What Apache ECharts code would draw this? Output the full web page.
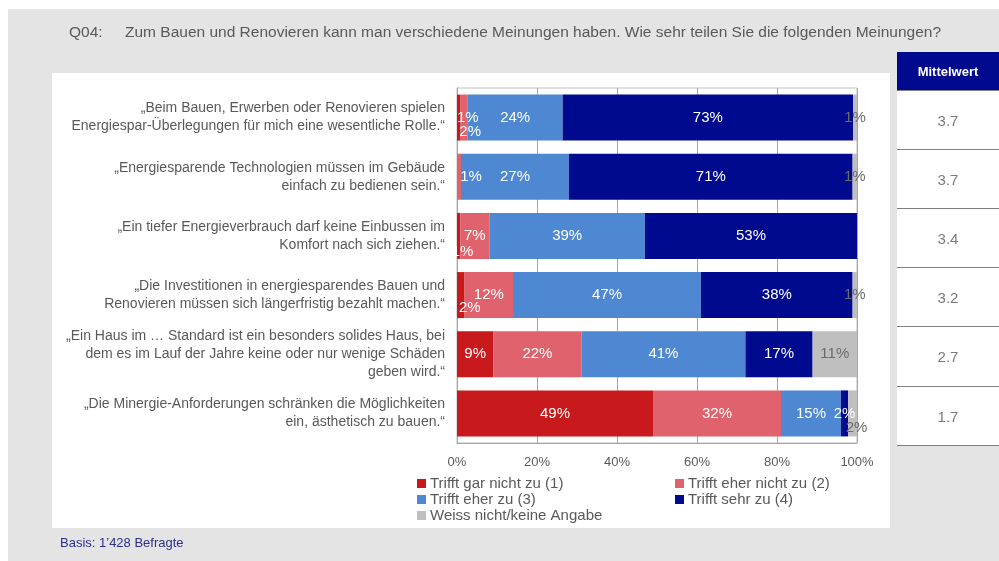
<!DOCTYPE html>
<html>
<head>
<meta charset="utf-8">
<script src="https://cdn.jsdelivr.net/npm/echarts@6/dist/echarts.min.js"></script>
<style>
  html, body { margin: 0; padding: 0; background: #fff; }
  #chart-container { width: 999px; height: 561px; }
</style>
</head>
<body>
<div id="chart-container"></div>
<script>
var categories = [
  "„Beim Bauen, Erwerben oder Renovieren spielen\nEnergiespar-Überlegungen für mich eine wesentliche Rolle.“",
  "„Energiesparende Technologien müssen im Gebäude\neinfach zu bedienen sein.“",
  "„Ein tiefer Energieverbrauch darf keine Einbussen im\nKomfort nach sich ziehen.“",
  "„Die Investitionen in energiesparendes Bauen und\nRenovieren müssen sich längerfristig bezahlt machen.“",
  "„Ein Haus im … Standard ist ein besonders solides Haus, bei\ndem es im Lauf der Jahre keine oder nur wenige Schäden\ngeben wird.“",
  "„Die Minergie-Anforderungen schränken die Möglichkeiten\nein, ästhetisch zu bauen.“"
];
var seriesNames = [
  "Trifft gar nicht zu (1)",
  "Trifft eher nicht zu (2)",
  "Trifft eher zu (3)",
  "Trifft sehr zu (4)",
  "Weiss nicht/keine Angabe"
];
var garNicht = [0.9, 0, 0.8, 1.9, 9.1, 49.0];
var eherNicht = [1.8, 1.0, 7.3, 12.1, 22.0, 32.0];
var eherZu = [23.7, 27.0, 38.9, 47.0, 41.0, 15.0];
var sehrZu = [72.6, 70.9, 53.0, 37.9, 16.8, 1.8];
var weissNicht = [1.0, 1.1, 0, 1.1, 11.1, 2.2];
var mittelwert = [3.7, 3.7, 3.4, 3.2, 2.7, 1.7];

var colors = ["#C8191C", "#E0626C", "#4F88D2", "#000A8F", "#BFBFBF"];
var FONT = "Liberation Sans";

// small segments: label moved a bit, like in the original
var labelShift = {
  0: { 0: [9, 0], 2: [4, 16], 3: [9, 13] },
  1: { 0: [6, 14], 1: [12, 0] },
  4: { 5: [4, 14] }
};

var dom = document.getElementById("chart-container");
var myChart = echarts.init(dom, null, { renderer: "canvas" });

var values = [garNicht, eherNicht, eherZu, sehrZu, weissNicht];

var barSeries = values.map(function (arr, s) {
  return {
    name: seriesNames[s],
    type: "bar",
    stack: "total",
    xAxisIndex: 0,
    yAxisIndex: 0,
    barWidth: 46,
    itemStyle: { color: colors[s] },
    label: {
      show: true,
      position: "inside",
      color: s === 4 ? "#6B6B6B" : "#fff",
      fontFamily: FONT,
      fontSize: 15,
      formatter: function (p) {
        return p.value > 0 ? Math.round(p.value) + "%" : "";
      }
    },
    data: arr.map(function (v, i) {
      var sh = labelShift[s] && labelShift[s][i];
      if (sh) {
        return { value: v, label: { offset: sh } };
      }
      return v;
    })
  };
});

var legendPos = [[417, 476], [675, 476], [417, 492], [675, 492], [417, 508]];
var legends = seriesNames.map(function (n, s) {
  return {
    data: [n],
    left: legendPos[s][0],
    top: legendPos[s][1],
    padding: 0,
    itemWidth: 9,
    itemHeight: 9,
    icon: "rect",
    selectedMode: false,
    textStyle: { color: "#595959", fontFamily: FONT, fontSize: 15, padding: [0, 0, 0, -1] }
  };
});

var option = {
  animation: false,
  color: colors,
  legend: legends,
  graphic: {
    elements: [
      { type: "rect", left: 8, top: 9, shape: { width: 991, height: 552 }, style: { fill: "#E4E4E4" }, z: -10 },
      { type: "rect", left: 52, top: 73, shape: { width: 838, height: 455 }, style: { fill: "#fff" }, z: -9 },
      { type: "rect", left: 897, top: 90, shape: { width: 102, height: 355 }, style: { fill: "#fff" }, z: -9 },
      { type: "rect", left: 897, top: 52, shape: { width: 102, height: 38 }, style: { fill: "#000A8F" }, z: -8 },
      {
        type: "text", left: 69, top: 25,
        style: { text: "Q04:", fill: "#595959", font: "15.5px '" + FONT + "'" }
      },
      {
        type: "text", left: 125, top: 25,
        style: {
          text: "Zum Bauen und Renovieren kann man verschiedene Meinungen haben. Wie sehr teilen Sie die folgenden Meinungen?",
          fill: "#595959", font: "15.5px '" + FONT + "'"
        }
      },
      {
        type: "text", x: 948, y: 72,
        style: { text: "Mittelwert", fill: "#fff", font: "bold 13px '" + FONT + "'", align: "center", verticalAlign: "middle" }
      },
      {
        type: "text", left: 60, top: 537,
        style: { text: "Basis: 1’428 Befragte", fill: "#2B2F8F", font: "13px '" + FONT + "'" }
      }
    ]
  },
  grid: [
    { left: 457, top: 88, width: 400, height: 355, show: true, borderColor: "#BFBFBF", borderWidth: 1, backgroundColor: "transparent" },
    { left: 897, top: 90, width: 102, height: 355 }
  ],
  xAxis: [
    {
      gridIndex: 0,
      type: "value",
      min: 0,
      max: 100,
      interval: 20,
      axisLine: { show: true, lineStyle: { color: "#A6A6A6" } },
      axisTick: { show: false },
      splitLine: { show: true, lineStyle: { color: "#A6A6A6" } },
      axisLabel: { color: "#595959", fontFamily: FONT, fontSize: 13, margin: 13, formatter: "{value}%" }
    },
    { gridIndex: 1, type: "value", min: -1, max: 1, show: false }
  ],
  yAxis: [
    {
      gridIndex: 0,
      type: "category",
      inverse: true,
      data: categories,
      axisLine: { show: true, lineStyle: { color: "#A6A6A6" } },
      axisTick: { show: false },
      axisLabel: {
        color: "#595959",
        fontFamily: FONT,
        fontSize: 14,
        lineHeight: 18,
        align: "right",
        margin: 12
      }
    },
    {
      gridIndex: 1,
      type: "category",
      inverse: true,
      data: categories,
      axisLine: { show: false },
      axisTick: { show: false },
      axisLabel: { show: false },
      splitLine: { show: true, lineStyle: { color: "#7F7F7F", width: 1 } }
    }
  ],
  series: barSeries.concat([
    {
      name: "Mittelwert",
      type: "scatter",
      xAxisIndex: 1,
      yAxisIndex: 1,
      symbolSize: 1,
      itemStyle: { color: "rgba(0,0,0,0)" },
      label: {
        show: true,
        position: "inside",
        offset: [0, 2],
        color: "#595959",
        fontFamily: FONT,
        fontSize: 15,
        formatter: function (p) { return mittelwert[p.dataIndex].toFixed(1); }
      },
      data: mittelwert.map(function (m, i) { return [0, i]; })
    }
  ])
};

myChart.setOption(option);
window.addEventListener("resize", myChart.resize);
</script>
</body>
</html>
